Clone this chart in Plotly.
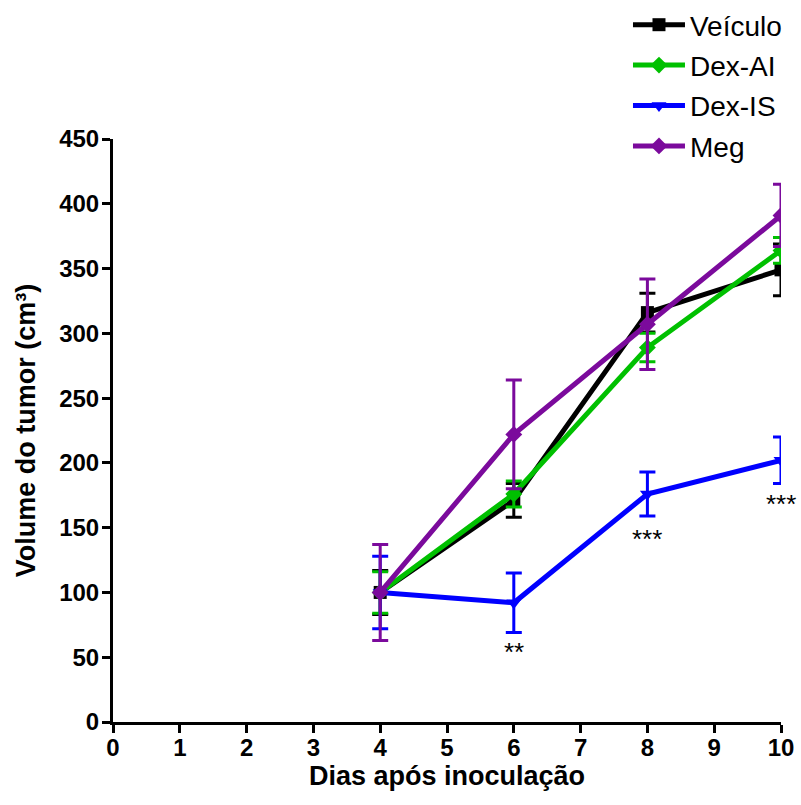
import plotly.graph_objects as go

days = [4, 6, 8, 10]
series_names = ["Veículo", "Dex-AI", "Dex-IS", "Meg"]
veiculo = [100, 171, 316, 349]
veiculo_err = [17, 13, 15, 20]
dex_ai = [100, 176, 289, 364]
dex_ai_err = [16, 10, 11, 10]
dex_is = [100, 92, 176, 202]
dex_is_err = [28, 23, 17, 18]
meg = [100, 222, 307, 391]
meg_err = [37, 42, 35, 24]

colors = ["#000000", "#00C000", "#0000FF", "#7B0A9C"]
symbols = ["square", "diamond", "triangle-down", "diamond"]
values = [veiculo, dex_ai, dex_is, meg]
errors = [veiculo_err, dex_ai_err, dex_is_err, meg_err]

sig_x = [6, 8, 10]
sig_y = [54, 141, 168]
sig_text = ["**", "***", "***"]

x_ticks = list(range(0, 11))
y_ticks = list(range(0, 451, 50))

FONT = "Liberation Sans, Arial"

fig = go.Figure()
for name, v, e, c, s in zip(series_names, values, errors, colors, symbols):
    fig.add_trace(go.Scatter(
        x=days, y=v, name=name, mode="lines+markers",
        line=dict(color=c, width=5),
        marker=dict(symbol=s, size=13, color=c),
        error_y=dict(type="data", array=e, visible=True, color=c, thickness=3, width=8),
        legendgroup=name,
    ))

for xx, yy, t in zip(sig_x, sig_y, sig_text):
    fig.add_annotation(x=xx, y=yy, text=t, showarrow=False,
                       font=dict(size=26, color="black", family=FONT))

axis_common = dict(showline=True, linecolor="black", linewidth=3, ticks="outside",
                   ticklen=8, tickwidth=3, tickcolor="black", showgrid=False, zeroline=False,
                   automargin=False,
                   tickfont=dict(size=24, color="black", family=FONT, weight="bold"))

fig.update_layout(
    width=801, height=805,
    paper_bgcolor="white", plot_bgcolor="white",
    margin=dict(l=113, r=20, t=139, b=83, autoexpand=False),
    showlegend=True,
    legend=dict(x=0.784, y=1.0, xref="container", yref="container",
                xanchor="left", yanchor="top",
                font=dict(size=28, color="black", family=FONT),
                tracegroupgap=1, bgcolor="rgba(0,0,0,0)", itemwidth=52),
    xaxis=dict(range=[0, 10], tickvals=x_ticks, ticklabelstandoff=-6,
               title=dict(text="Dias após inoculação", standoff=2,
                          font=dict(size=27, color="black", family=FONT, weight="bold")),
               **axis_common),
    yaxis=dict(range=[0, 450], tickvals=y_ticks, ticklabelstandoff=-2,
               title=dict(text="Volume do tumor (cm³)", standoff=16,
                          font=dict(size=27, color="black", family=FONT, weight="bold")),
               **axis_common),
)

fig.write_html("out.html")
